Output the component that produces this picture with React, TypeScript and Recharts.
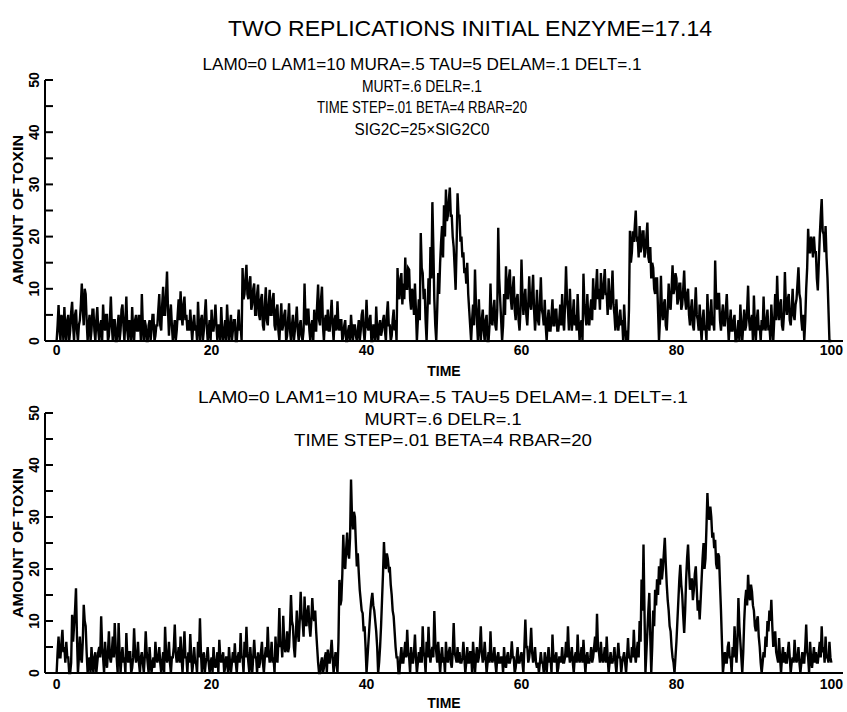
import React from 'react';
import { LineChart, Line, XAxis, YAxis } from 'recharts';

const TIME_STEP = 0.125;

const TOP_TOXIN = [
  // 0-9
  0, 3, 6.9, 2, 0, 5, 4, 0,
  6.5, 2, 0, 4, 5, 0, 2, 5.5,
  7.5, 3, 0, 5, 6, 2, 0, 3,
  4, 7, 11, 6, 3, 10, 9, 4,
  0, 3, 5, 0, 2, 6, 6, 2,
  0, 4, 6.5, 2, 0, 3, 4, 0,
  7, 3, 2, 5, 5, 0, 1, 4,
  8.5, 3, 0, 4, 4, 0, 0, 3,
  5, 0, 2, 6, 7, 3, 0, 4,
  8.5, 2, 0, 4, 3, 0, 6.5, 2,
  // 10-19
  0, 4, 5, 2, 2, 5, 4, 0,
  9, 3, 0, 4, 3, 0, 0, 3,
  4, 0, 2, 5, 5, 0, 1, 3,
  3, 6, 9, 3, 2, 7, 10.4, 5,
  5, 9, 13.3, 6, 1, 5, 7, 3,
  0, 2, 4, 0, 2, 5, 8, 4,
  9.5, 5, 3, 7, 8.5, 4, 5, 2,
  4, 2, 6, 3, 0, 3, 5, 2,
  3, 0, 7.5, 3, 0, 4, 5, 0,
  2, 5, 8, 3, 0, 2, 4, 0,
  // 20-29
  6, 2, 2, 4, 7, 3, 0, 3,
  3, 0, 6.5, 2, 0, 2, 4, 0,
  7, 3, 0, 3, 5, 0, 2, 4,
  4, 0, 0, 3, 6, 2, 3, 0,
  14, 8, 9, 12, 14.6, 9, 8, 11,
  12.4, 6, 7, 10, 11, 5, 5, 9,
  10.8, 5, 4, 8, 9, 3, 2, 7,
  10.3, 4, 3, 7, 9.8, 5, 5, 8,
  9.2, 3, 2, 6, 7, 2, 0, 4,
  7.2, 2, 3, 5, 6, 0, 1, 4,
  // 30-39
  7.2, 2, 0, 3, 5, 0, 2, 4,
  6.6, 2, 0, 3, 4, 1, 0, 2,
  11, 4, 3, 6, 6, 2, 0, 3,
  4, 0, 6, 2, 2, 7, 10.8, 4,
  3, 8, 10.4, 3, 0, 4, 5, 2,
  6, 2, 2, 5, 7.9, 3, 0, 4,
  5, 2, 7.6, 3, 2, 4, 4, 0,
  1, 3, 4, 0, 0, 2, 3, 0,
  5, 2, 0, 3, 3, 1, 0, 2,
  4, 0, 2, 5, 6, 2, 0, 3,
  // 40-49
  7.9, 3, 2, 4, 5, 0, 0, 3,
  3, 0, 6.6, 2, 0, 3, 4, 1,
  2, 4, 5, 2, 0, 5, 7.6, 3,
  3, 0, 1, 4, 6, 2, 4, 0,
  14, 9, 8, 12, 13, 7, 11, 8,
  16, 10, 10, 14, 13.7, 8, 6, 10,
  9, 5, 11, 6, 0, 4, 8, 4,
  20.7, 14, 13, 8, 10, 4, 0, 6,
  12, 7, 18, 12, 26.6, 18, 8, 3,
  0, 6, 13, 9, 15, 19, 22, 16,
  // 50-59
  26, 20, 29, 23, 24, 27, 29.4, 24,
  24, 20, 18, 14, 9.8, 18, 28.3, 24,
  24, 19, 20, 16, 17, 13, 14, 11,
  15, 9, 6, 3, 0, 4, 7, 3,
  13.7, 7, 4, 0, 8, 3, 0, 4,
  6, 2, 0, 4, 5, 0, 0, 3,
  11, 4, 3, 6, 7.9, 3, 2, 6,
  21.7, 12, 8, 4, 0, 3, 9, 5,
  14.3, 9, 8, 12, 13.7, 8, 6, 10,
  12.4, 6, 4, 8, 9, 4, 2, 6,
  // 60-69
  15.6, 9, 5, 8, 10, 5, 3, 7,
  12.4, 7, 6, 9, 12.7, 6, 2, 5,
  9.8, 4, 3, 7, 12.2, 6, 5, 3,
  7.9, 3, 0, 4, 6, 2, 2, 5,
  8, 3, 3, 6, 6, 2, 2, 4,
  7, 3, 9, 4, 2, 7, 14.3, 8,
  6, 2, 10, 5, 2, 5, 8, 3,
  5, 2, 9, 4, 0, 3, 4, 0,
  12.9, 7, 5, 3, 9, 4, 3, 6,
  8, 4, 12, 7, 6, 10, 13.8, 8,
  // 70-79
  10, 6, 13, 9, 8, 11, 13.8, 9,
  9, 5, 12, 8, 6, 9, 13.5, 7,
  5, 2, 8, 4, 2, 4, 6, 3,
  4, 0, 7, 3, 0, 2, 0, 6,
  21.1, 15, 17, 21, 19, 22, 25, 19,
  20, 16, 22, 17, 18, 21, 21, 16,
  17, 20, 22.7, 16, 15, 18, 12, 15,
  14, 10, 9, 12, 12, 6, 0, 4,
  12.5, 6, 4, 7, 8, 3, 2, 6,
  11, 7, 6, 10, 14.5, 9, 10, 13,
  // 80-89
  12, 7, 8, 11, 11, 6, 7, 10,
  13.5, 8, 6, 9, 10, 5, 3, 6,
  8, 3, 2, 6, 10.3, 5, 4, 2,
  7, 3, 0, 4, 6, 2, 3, 0,
  9, 4, 2, 5, 8, 3, 4, 2,
  15.4, 8, 6, 9, 9, 4, 2, 5,
  7, 3, 3, 6, 9, 4, 0, 3,
  6, 2, 2, 4, 5, 0, 0, 2,
  4, 0, 7, 3, 0, 3, 6, 2,
  3, 6, 10.6, 4, 2, 4, 5, 0,
  // 90-100
  8.7, 3, 0, 4, 6, 2, 3, 0,
  4, 2, 8.5, 3, 2, 4, 6, 2,
  3, 0, 7, 3, 0, 4, 9, 4,
  12.5, 6, 4, 7, 8, 3, 2, 5,
  13.2, 7, 5, 8, 9, 4, 3, 6,
  10, 5, 4, 7, 8, 11, 14.1, 9,
  8, 4, 2, 5, 0, 4, 10, 14,
  21.5, 17, 17, 20, 19, 16, 20, 17,
  17, 12, 9.7, 15, 20, 24, 27.2, 21,
  20.5, 17, 22, 16, 12, 6, 0, 0,
  0,
];

const BOTTOM_TOXIN = [
  // 0-9
  0, 4, 7, 3, 3, 6, 8.3, 4,
  5, 2, 6, 3, 3, 0, 0, 2,
  11.2, 6, 9, 12, 16.3, 7, 0, 3,
  7, 3, 2, 6, 13.1, 10, 9, 4,
  0, 2, 3, 0, 5, 2, 0, 3,
  4, 0, 2, 4, 5, 3, 10.9, 5,
  3, 0, 6, 3, 1, 4, 8, 3,
  2, 4, 7, 3, 9.6, 5, 3, 0,
  9.6, 4, 0, 3, 5, 2, 3, 0,
  7.7, 3, 2, 4, 4, 0, 1, 3,
  // 10-19
  8.6, 4, 2, 3, 6, 2, 0, 3,
  4, 2, 0, 3, 8, 4, 2, 0,
  5, 2, 0, 2, 3, 1, 6, 3,
  2, 3, 5, 2, 0, 2, 4, 0,
  8.9, 4, 2, 3, 6, 2, 0, 3,
  3, 5, 9.3, 4, 2, 3, 5, 2,
  7, 3, 0, 4, 8, 3, 3, 0,
  4, 2, 7.5, 3, 0, 2, 5, 2,
  2, 0, 6, 3, 10.5, 4, 0, 3,
  4, 0, 2, 3, 5, 2, 0, 2,
  // 20-29
  3, 0, 5, 2, 1, 2, 4, 0,
  6.4, 3, 2, 3, 4, 0, 1, 3,
  3, 0, 5, 2, 0, 2, 4, 2,
  5.7, 2, 0, 3, 4, 2, 7.7, 3,
  3, 0, 6, 3, 8.9, 4, 2, 0,
  5, 2, 0, 3, 6.4, 3, 3, 0,
  4, 1, 2, 4, 6, 2, 0, 3,
  5, 3, 8.9, 4, 2, 3, 6, 2,
  3, 0, 7, 3, 2, 6, 12.5, 5,
  6, 3, 11, 6, 4, 5, 8, 4,
  // 30-39
  5, 9, 15, 10, 9, 5, 3, 7,
  12, 8, 6, 10, 15.6, 11, 10, 7,
  14.7, 10, 9, 12, 13, 9, 7, 10,
  14.4, 11, 10, 12, 8, 5, 2, 0,
  0, 2, 3, 0, 1, 3, 4, 0,
  4.5, 2, 2, 4, 6.4, 3, 0, 2,
  4, 2, 0, 6, 17.9, 13, 14, 19,
  26.6, 21, 20, 24, 27, 23, 22, 26,
  37.2, 30, 27.6, 31, 30, 25, 20.5, 23,
  19.2, 16, 14, 12, 11.5, 8, 9, 5,
  // 40-49
  0, 3, 6, 9, 12, 14, 15.4, 13,
  12, 10, 8, 5, 0, 2, 5, 9,
  14, 19, 25.2, 21, 20, 23, 22, 20,
  20.4, 17, 15, 12, 10.9, 8, 5, 3,
  3, 0, 0, 3, 5, 2, 2, 4,
  6, 3, 8.3, 4, 3, 0, 5, 2,
  2, 4, 7.4, 3, 0, 2, 4, 2,
  5, 2, 9, 4, 3, 0, 6, 3,
  8.9, 4, 2, 4, 5, 3, 11.9, 6,
  4, 2, 6, 3, 0, 3, 5, 2,
  // 50-59
  3, 0, 6, 3, 2, 4, 5, 2,
  1, 4, 9.6, 4, 3, 2, 5, 2,
  4, 2, 2, 3, 6, 3, 0, 2,
  5, 2, 2, 4, 4, 0, 6, 3,
  0, 3, 5, 2, 3, 5, 9, 4,
  2, 3, 6, 3, 0, 2, 4, 2,
  8, 3, 2, 3, 5, 2, 0, 3,
  4, 2, 2, 3, 3, 0, 5, 2,
  1, 3, 4, 2, 2, 3, 6.1, 3,
  3, 0, 1, 3, 5, 2, 2, 3,
  // 60-69
  4, 2, 0, 5, 10.3, 5, 5, 2,
  3, 5, 8.7, 4, 2, 3, 5, 2,
  1, 2, 0, 2, 4, 2, 2, 0,
  4, 2, 0, 3, 5, 2, 3, 0,
  7.4, 3, 2, 3, 4, 0, 1, 3,
  3, 2, 5, 2, 2, 3, 6, 3,
  9, 4, 2, 3, 5, 2, 0, 3,
  4, 2, 7.4, 3, 2, 3, 5, 2,
  6.4, 3, 0, 3, 4, 2, 2, 3,
  5, 2, 3, 5, 7, 4, 11.4, 5,
  // 70-79
  4, 2, 6, 3, 2, 3, 5, 2,
  7, 3, 0, 2, 4, 2, 2, 3,
  5, 2, 0, 3, 5.8, 3, 3, 0,
  2, 3, 4, 2, 0, 3, 6.7, 3,
  3, 2, 5, 3, 8.3, 4, 2, 4,
  6, 3, 10, 6, 18, 12, 24.7, 12,
  0, 4, 8, 12, 15.4, 7, 0, 5,
  12, 9, 16, 13, 18, 15, 20.5, 17,
  22, 18, 20, 23, 26, 21, 17, 14,
  12, 9, 8, 5, 3, 2, 0, 3,
  // 80-89
  6, 10, 14, 18, 20.8, 17, 15, 11,
  7.7, 12, 18, 22, 24.7, 20, 16, 18,
  18, 14, 16, 19, 20.5, 16, 12, 14,
  10.3, 14, 18, 22, 25, 20, 22, 28,
  34.6, 30, 29.5, 32, 30, 26, 27, 24,
  25.6, 21, 20, 23, 22.4, 17, 12, 6,
  0, 2, 4, 2, 2, 5, 6, 3,
  3, 0, 5, 3, 9, 5, 2, 6,
  14.4, 9, 6, 3, 0, 4, 10, 14,
  16, 13, 18.9, 15, 14, 17, 15.7, 13,
  // 90-100
  12, 9, 8, 10, 10.9, 7, 5, 2,
  0, 2, 4, 3, 7, 5, 10, 8,
  12, 10, 14.1, 9, 5, 7, 8, 4,
  3, 2, 6.7, 3, 0, 3, 5, 2,
  4, 2, 2, 4, 6, 3, 0, 2,
  3, 2, 6.4, 3, 2, 3, 5, 2,
  0, 2, 4, 2, 2, 5, 9.3, 4,
  3, 0, 6, 3, 1, 3, 5, 2,
  4, 2, 2, 4, 6, 3, 9, 4,
  5, 2, 7, 3, 3, 2, 6, 3,
  2,
];

const X_TICKS = [0, 20, 40, 60, 80, 100];
const Y_TICKS = [0, 5, 10, 15, 20, 25, 30, 35, 40, 45, 50];

const TITLE = 'TWO REPLICATIONS INITIAL ENZYME=17.14';
const TOP_NOTES = [
  'LAM0=0 LAM1=10 MURA=.5 TAU=5 DELAM=.1 DELT=.1',
  'MURT=.6 DELR=.1',
  'TIME STEP=.01 BETA=4 RBAR=20',
  'SIG2C=25×SIG2C0',
];
const BOTTOM_NOTES = [
  'LAM0=0 LAM1=10 MURA=.5 TAU=5 DELAM=.1 DELT=.1',
  'MURT=.6 DELR=.1',
  'TIME STEP=.01 BETA=4 RBAR=20',
];

const FONT = "'Liberation Sans', Arial, sans-serif";

const toRows = (values: number[]) =>
  values.map((v, i) => ({ t: i * TIME_STEP, toxin: v }));

const YTick = (props: any) => {
  const { x, y, payload } = props;
  const lx = x - 11;
  return (
    <g>
      <line x1={x} y1={y} x2={x + 8} y2={y} stroke="#000" strokeWidth={2} />
      {payload.value % 10 === 0 && (
        <text
          x={lx}
          y={y}
          transform={`rotate(-90 ${lx} ${y})`}
          textAnchor="middle"
          dominantBaseline="central"
          fontFamily={FONT}
          fontWeight={700}
          fontSize={14}
          fill="#000"
        >
          {payload.value}
        </text>
      )}
    </g>
  );
};

const Panel: React.FC<{ values: number[]; top: number; height: number; marginTop: number; marginBottom: number; tickGap: number }> = ({
  values, top, height, marginTop, marginBottom, tickGap,
}) => (
  <div style={{ position: 'absolute', left: 0, top, width: 847, height }}>
    <LineChart
      width={847}
      height={height}
      data={toRows(values)}
      margin={{ top: marginTop, right: 4, bottom: marginBottom, left: 0 }}
    >
      <XAxis
        dataKey="t"
        type="number"
        domain={[-1.5, 101.5]}
        ticks={X_TICKS}
        allowDataOverflow
        height={25}
        tickLine={false}
        tickSize={0}
        tickMargin={tickGap}
        axisLine={{ stroke: '#000', strokeWidth: 2 }}
        tick={{ fill: '#000', fontSize: 14, fontWeight: 700, fontFamily: FONT }}
      />
      <YAxis
        type="number"
        domain={[0, 50]}
        ticks={Y_TICKS}
        interval={0}
        width={45}
        tickLine={false}
        tickSize={0}
        tickMargin={0}
        axisLine={{ stroke: '#000', strokeWidth: 2 }}
        tick={<YTick />}
      />
      <Line
        type="linear"
        dataKey="toxin"
        stroke="#000"
        strokeWidth={2.4}
        dot={false}
        isAnimationActive={false}
      />
    </LineChart>
  </div>
);

export default function App() {
  return (
    <div style={{ position: 'absolute', left: 0, top: 0, width: 847, height: 712, background: '#fff', overflow: 'hidden' }}>
      <Panel values={TOP_TOXIN} top={0} height={380} marginTop={80} marginBottom={14} tickGap={4} />
      <Panel values={BOTTOM_TOXIN} top={380} height={332} marginTop={33} marginBottom={14} tickGap={6} />
      <svg width={847} height={712} style={{ position: 'absolute', left: 0, top: 0, pointerEvents: 'none' }}>
        <g fontFamily={FONT} fill="#000">
          <text x={470} y={36} textAnchor="middle" fontSize={22} textLength={484} lengthAdjust="spacingAndGlyphs">
            {TITLE}
          </text>
          {TOP_NOTES.map((s, i) => (
            <text
              key={s}
              x={422}
              y={[70, 92, 113, 135][i]}
              textAnchor="middle"
              fontSize={16}
              textLength={[439, 120, 210, 135][i]}
              lengthAdjust="spacingAndGlyphs"
            >
              {s}
            </text>
          ))}
          {BOTTOM_NOTES.map((s, i) => (
            <text
              key={s}
              x={443}
              y={[403, 425, 446][i]}
              textAnchor="middle"
              fontSize={16}
              textLength={[490, 157, 298][i]}
              lengthAdjust="spacingAndGlyphs"
            >
              {s}
            </text>
          ))}
          <text x={444} y={376} textAnchor="middle" fontSize={14} fontWeight={700}>TIME</text>
          <text x={444} y={708} textAnchor="middle" fontSize={14} fontWeight={700}>TIME</text>
          <text
            x={18}
            y={210}
            transform="rotate(-90 18 210)"
            textAnchor="middle"
            dominantBaseline="central"
            fontSize={14}
            fontWeight={700}
            textLength={150}
            lengthAdjust="spacingAndGlyphs"
          >
            AMOUNT OF TOXIN
          </text>
          <text
            x={18}
            y={543}
            transform="rotate(-90 18 543)"
            textAnchor="middle"
            dominantBaseline="central"
            fontSize={14}
            fontWeight={700}
            textLength={150}
            lengthAdjust="spacingAndGlyphs"
          >
            AMOUNT OF TOXIN
          </text>
        </g>
      </svg>
    </div>
  );
}
